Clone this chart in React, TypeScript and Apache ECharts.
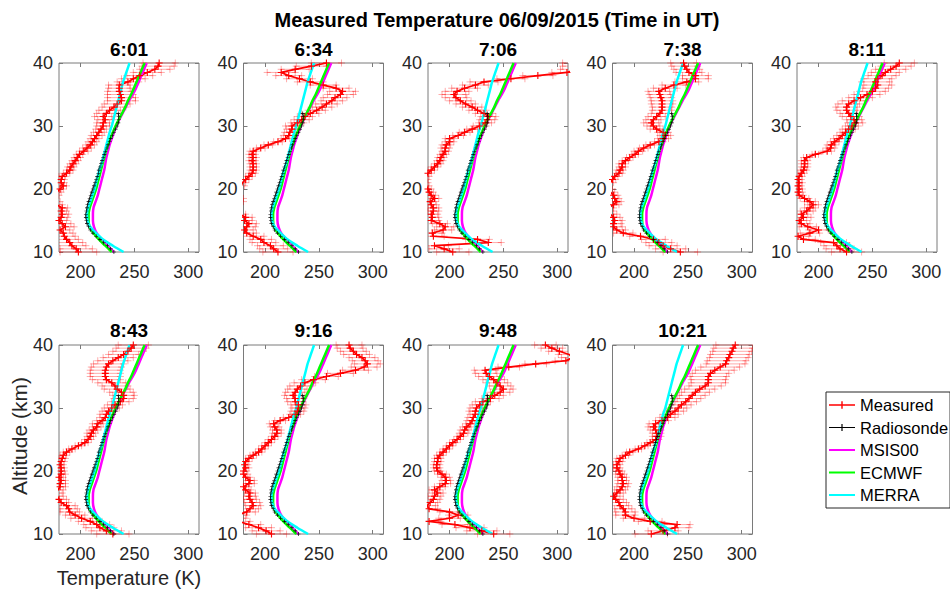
import React, { useEffect, useRef } from "react";
import * as echarts from "echarts";

const TITLES = ["6:01", "6:34", "7:06", "7:38", "8:11", "8:43", "9:16", "9:48", "10:21"];
const LEGEND_NAMES = ["Measured", "Radiosonde", "MSIS00", "ECMWF", "MERRA"];
const X_TICKS = [200, 250, 300];

// measured altitude levels (km)
const ALT = [10, 10.5, 11, 11.5, 12, 12.5, 13, 13.5, 14, 14.5, 15, 15.5, 16, 16.5, 17, 17.5, 18, 18.5, 19, 19.5,
  20, 20.5, 21, 21.5, 22, 22.5, 23, 23.5, 24, 24.5, 25, 25.5, 26, 26.5, 27, 27.5, 28, 28.5, 29, 29.5,
  30, 30.5, 31, 31.5, 32, 32.5, 33, 33.5, 34, 34.5, 35, 35.5, 36, 36.5, 37, 37.5, 38, 38.5, 39, 39.5, 40];

// measured temperatures (K)
const M_0601 = [198, 196, 192, 190, 187, 185, 184, 181, 186, 183, 180, 182, 183, 182, 183, 178, 176, 175, 176, 178,
  181, 184, 182, 182, 183, 187, 190, 191, 193, 195, 197, 199, 203, 206, 209, 211, 213, 215, 217, 219,
  221, 221, 223, 221, 224, 227, 231, 234, 238, 238, 237, 236, 236, 236, 244, 249, 255, 262, 269, 272, 273];
const M_0634 = [212, 208, 205, 199, 196, 189, 183, 181, 183, 185, 181, 182, 176, 174, 173, 174, 175, 176, 175, 174,
  176, 178, 179, 182, 185, 188, 189, 189, 189, 188, 189, 188, 189, 196, 203, 212, 219, 222, 223, 225,
  225, 230, 234, 237, 242, 248, 253, 257, 262, 265, 270, 272, 266, 254, 242, 232, 222, 215, 228, 243, 257];
const M_0706 = [203, 195, 186, 236, 226, 185, 184, 194, 196, 191, 183, 184, 183, 185, 185, 183, 182, 186, 183, 181,
  180, 178, 177, 177, 178, 180, 183, 186, 189, 191, 192, 194, 196, 196, 197, 200, 200, 208, 214, 221,
  228, 233, 235, 236, 232, 226, 221, 215, 210, 206, 204, 207, 214, 224, 232, 257, 282, 309, 318, 320, 320];
const M_0738 = [243, 234, 227, 223, 218, 206, 190, 184, 181, 181, 182, 181, 178, 176, 176, 181, 184, 182, 181, 178,
  177, 176, 178, 180, 182, 186, 187, 189, 189, 192, 196, 201, 204, 209, 215, 223, 227, 229, 227, 221,
  218, 216, 218, 221, 224, 226, 226, 226, 226, 225, 224, 223, 229, 237, 249, 257, 257, 251, 249, 247, 246];
const M_0811 = [226, 220, 217, 214, 186, 181, 192, 200, 190, 184, 182, 186, 184, 189, 192, 195, 192, 187, 182, 181,
  182, 181, 182, 181, 182, 184, 186, 187, 187, 187, 189, 197, 208, 211, 212, 215, 219, 222, 225, 228,
  231, 234, 233, 230, 228, 226, 226, 228, 233, 239, 245, 250, 253, 255, 253, 255, 259, 262, 267, 272, 275];
const M_0843 = [230, 224, 218, 215, 209, 201, 195, 190, 189, 187, 182, 180, 178, 177, 179, 181, 181, 182, 180, 182,
  182, 182, 181, 182, 183, 184, 187, 192, 198, 204, 207, 209, 210, 212, 215, 216, 220, 223, 224, 226,
  229, 232, 237, 240, 240, 238, 234, 232, 229, 224, 223, 223, 223, 224, 226, 230, 235, 240, 244, 247, 249];
const M_0916 = [206, 201, 194, 185, 176, 172, 174, 183, 186, 189, 188, 186, 185, 186, 182, 180, 185, 186, 182, 180,
  180, 182, 181, 182, 185, 189, 194, 197, 200, 203, 206, 209, 211, 211, 209, 208, 214, 222, 228, 230,
  231, 231, 228, 228, 226, 228, 230, 233, 237, 245, 257, 270, 284, 292, 295, 293, 290, 285, 282, 279, 278];
const M_0948 = [241, 230, 219, 205, 181, 200, 208, 200, 181, 179, 182, 185, 186, 189, 186, 191, 196, 197, 196, 193,
  189, 188, 188, 189, 189, 191, 194, 197, 200, 203, 207, 210, 213, 214, 216, 219, 221, 222, 224, 224,
  225, 228, 231, 238, 242, 247, 250, 247, 244, 241, 237, 234, 233, 255, 280, 308, 314, 311, 302, 295, 289];
const M_1021 = [216, 227, 238, 240, 215, 200, 192, 192, 190, 187, 186, 183, 181, 184, 187, 189, 190, 189, 189, 187,
  186, 184, 184, 186, 187, 192, 196, 204, 210, 215, 220, 221, 221, 220, 218, 220, 226, 231, 234, 238,
  241, 244, 248, 251, 254, 257, 261, 266, 269, 269, 269, 271, 275, 280, 285, 286, 288, 289, 291, 292, 294];

// measured uncertainty (K, +/-)
const E_0601 = [17, 15, 13, 12, 11, 10, 9, 9, 8, 8, 7, 6, 6, 5, 5, 5, 5, 4, 4, 4, 3, 3, 3, 3, 3, 3, 3, 3, 3, 3,
  3, 3, 4, 4, 4, 4, 4, 5, 5, 5, 6, 6, 7, 8, 9, 10, 11, 12, 13, 13, 12, 11, 10, 10, 10, 11, 12, 13, 14, 15, 15];
const E_0634 = [14, 13, 12, 11, 10, 10, 9, 8, 8, 7, 7, 6, 6, 5, 5, 5, 5, 4, 4, 4, 3, 3, 3, 3, 3, 3, 3, 3, 3, 3,
  3, 3, 3, 4, 4, 4, 4, 5, 5, 5, 6, 6, 7, 7, 8, 8, 9, 10, 10, 11, 12, 12, 12, 12, 12, 12, 12, 13, 13, 14, 14];
const E_0706 = [15, 14, 13, 12, 11, 10, 9, 8, 8, 7, 7, 6, 6, 5, 5, 5, 5, 4, 4, 4, 3, 3, 3, 3, 3, 3, 3, 3, 3, 3,
  3, 3, 3, 4, 4, 4, 4, 5, 5, 5, 6, 6, 7, 7, 8, 8, 9, 9, 10, 10, 11, 11, 12, 12, 13, 13, 14, 14, 15, 15, 15];
const E_0738 = [16, 14, 13, 12, 11, 10, 9, 8, 8, 7, 7, 6, 6, 5, 5, 5, 4, 4, 4, 4, 3, 3, 3, 3, 3, 3, 3, 3, 3, 3,
  3, 3, 4, 4, 4, 4, 5, 5, 5, 6, 6, 7, 7, 8, 8, 9, 9, 10, 10, 10, 10, 10, 11, 11, 11, 12, 12, 12, 12, 12, 12];
const E_0811 = [14, 13, 12, 12, 11, 10, 9, 9, 8, 8, 7, 7, 6, 6, 5, 5, 5, 4, 4, 4, 3, 3, 3, 3, 3, 3, 3, 3, 3, 3,
  3, 3, 4, 4, 4, 4, 5, 5, 5, 6, 6, 7, 7, 8, 8, 9, 10, 10, 11, 11, 12, 12, 12, 13, 13, 13, 13, 13, 14, 14, 14];
const E_0843 = [15, 14, 13, 12, 11, 10, 9, 9, 8, 8, 7, 7, 6, 6, 5, 5, 5, 4, 4, 4, 3, 3, 3, 3, 3, 3, 3, 3, 3, 3,
  3, 3, 4, 4, 4, 5, 5, 5, 6, 6, 7, 7, 8, 9, 10, 11, 12, 12, 13, 13, 14, 14, 14, 14, 14, 14, 14, 14, 14, 14, 14];
const E_0916 = [14, 13, 12, 11, 10, 10, 9, 8, 8, 7, 7, 6, 6, 5, 5, 5, 5, 4, 4, 4, 3, 3, 3, 3, 3, 3, 3, 3, 3, 3,
  3, 3, 4, 4, 4, 4, 5, 5, 5, 6, 6, 7, 7, 8, 8, 9, 9, 10, 10, 11, 11, 12, 12, 12, 12, 12, 12, 12, 12, 12, 12];
const E_0948 = [15, 14, 13, 12, 11, 10, 9, 9, 8, 8, 7, 6, 6, 5, 5, 5, 5, 4, 4, 4, 3, 3, 3, 3, 3, 3, 3, 3, 3, 3,
  3, 3, 4, 4, 4, 4, 5, 5, 5, 6, 6, 7, 7, 8, 8, 9, 9, 10, 10, 10, 10, 10, 10, 10, 10, 10, 10, 10, 10, 10, 10];
const E_1021 = [15, 14, 13, 12, 11, 10, 9, 9, 8, 8, 7, 7, 6, 6, 5, 5, 5, 4, 4, 4, 3, 3, 3, 3, 3, 3, 3, 3, 3, 3,
  3, 4, 4, 5, 5, 6, 6, 7, 7, 8, 8, 9, 10, 11, 12, 13, 14, 15, 16, 16, 17, 17, 18, 18, 18, 18, 18, 18, 18, 18, 18];

// model profiles (1 km levels)
const MODEL_ALT = [10, 11, 12, 13, 14, 15, 16, 17, 18, 19, 20, 21, 22, 23, 24, 25, 26, 27, 28, 29, 30,
  31, 32, 33, 34, 35, 36, 37, 38, 39, 40];
const MSIS00 = [231, 225, 219.5, 215, 212.5, 211.5, 211.5, 212, 214, 216, 217.5, 219, 220.5, 222, 223, 224,
  225.5, 227, 229, 231, 233, 236, 239, 242, 245, 248.5, 251.5, 254, 256.5, 259, 261.5];
const ECMWF = [229, 223, 217, 212, 208.5, 207.5, 207.5, 208.5, 210.5, 212.5, 214.5, 216, 217.5, 219, 220.5, 222,
  223.5, 225.5, 227.5, 230, 232.5, 235.5, 238.5, 241.5, 244, 247, 249.5, 252, 254.5, 257, 259.5];
const MERRA = [240, 230, 221, 214.5, 209, 206.5, 206, 207, 209, 211, 213, 214.5, 216, 217.5, 219.5, 221,
  222.5, 224, 225.5, 227, 229, 230.5, 232, 233.5, 235, 236.5, 238, 239.5, 241.5, 243.5, 245.5];

// radiosonde profile
const SONDE_ALT = [10, 10.5, 11, 11.5, 12, 12.5, 13, 13.5, 14, 14.5, 15, 15.5, 16, 16.5, 17, 17.5, 18, 18.5, 19, 19.5,
  20, 20.5, 21, 21.5, 22, 22.5, 23, 23.5, 24, 24.5, 25, 25.5, 26, 26.5, 27, 27.5, 28, 28.5, 29, 29.5,
  30, 30.5, 31, 31.5, 32];
const SONDE = [231, 228, 225, 221.5, 218, 214.5, 211.5, 209, 207.5, 206, 205.5, 205, 205, 205.5, 206, 206.5, 207.5, 208.5, 209.5, 210.5,
  211.5, 212.5, 213.5, 214.5, 215.5, 216.5, 217, 218, 219, 220, 221, 222, 223, 224.5, 225.5, 227, 228, 229.5, 231, 232.5,
  234, 235, 235.5, 235.5, 235];

const MEASURED = [M_0601, M_0634, M_0706, M_0738, M_0811, M_0843, M_0916, M_0948, M_1021];
const ERRORS = [E_0601, E_0634, E_0706, E_0738, E_0811, E_0843, E_0916, E_0948, E_1021];

const COL_LEFT = [59, 243.5, 428, 612.5, 797];
const ROW_TOP = [63, 345];
const PW = 140;
const PH = 189;
const FONT = "'Liberation Sans', Arial, Helvetica, sans-serif";
const AX = "#7a7a7a";
const TXT = "#262626";
const PLUS = "path://M0,4.2H10V5.8H0Z M4.2,0H5.8V10H4.2Z";
const ERR_COLOR = "rgba(255,0,0,0.33)";

// legend icons (26 x 14 box; tiny corner bits fix the bounding box)
const BOX = "M0,0H0.01V0.01H0Z M25.99,13.99H26V14H25.99Z ";
const ICON_LINE = "path://" + BOX + "M0,5.9H26V8.1H0Z";
const ICON_PLUS_RED = "path://" + BOX + "M0,6.3H26V7.7H0Z M12.3,3.3H13.7V10.7H12.3Z";
const ICON_PLUS_BLACK = "path://" + BOX + "M0,6.4H26V7.6H0Z M12.4,3.4H13.6V10.6H12.4Z";
const LEGEND_ICONS = [ICON_PLUS_RED, ICON_PLUS_BLACK, ICON_LINE, ICON_LINE, ICON_LINE];

function buildOption() {
  const grid: any[] = [];
  const xAxis: any[] = [];
  const yAxis: any[] = [];
  const series: any[] = [];
  const graphic: any[] = [];

  TITLES.forEach((title, i) => {
    const r = Math.floor(i / 5);
    const c = i % 5;
    const left = COL_LEFT[c];
    const top = ROW_TOP[r];
    grid.push({ left, top, width: PW, height: PH, show: true, borderColor: AX, borderWidth: 1, backgroundColor: "#fff" });
    const tick = { show: true, inside: true, length: 4, lineStyle: { color: AX, width: 1 } };
    xAxis.push({
      type: "value", gridIndex: i, min: 180, max: 310, position: "bottom",
      axisLine: { show: false }, splitLine: { show: false },
      axisTick: { ...tick, customValues: X_TICKS },
      axisLabel: { customValues: X_TICKS, fontSize: 18, color: TXT, fontFamily: FONT, margin: 11 },
    });
    xAxis.push({
      type: "value", gridIndex: i, min: 180, max: 310, position: "top",
      axisLine: { show: false }, splitLine: { show: false },
      axisTick: { ...tick, customValues: X_TICKS }, axisLabel: { show: false },
    });
    yAxis.push({
      type: "value", gridIndex: i, min: 10, max: 40, interval: 10, position: "left",
      axisLine: { show: false }, splitLine: { show: false }, axisTick: tick,
      axisLabel: { fontSize: 18, color: TXT, fontFamily: FONT, margin: 6 },
    });
    yAxis.push({
      type: "value", gridIndex: i, min: 10, max: 40, interval: 10, position: "right",
      axisLine: { show: false }, splitLine: { show: false }, axisTick: tick, axisLabel: { show: false },
    });
    const xi = 2 * i;
    const yi = 2 * i;
    const meas = MEASURED[i];
    const err = ERRORS[i];
    series.push({
      type: "custom", name: "err" + i, xAxisIndex: xi, yAxisIndex: yi, silent: true,
      encode: { x: 0, y: 1 },
      data: ALT.map((a, k) => [meas[k], a, err[k]]),
      renderItem: (params: any, api: any) => {
        const t = api.value(0);
        const a = api.value(1);
        const e = api.value(2);
        const cs = params.coordSys;
        const x0 = cs.x;
        const x1 = cs.x + cs.width;
        const pL = api.coord([t - e, a]);
        const pR = api.coord([t + e, a]);
        const y = pL[1];
        const children: any[] = [];
        const l = Math.max(pL[0], x0);
        const rr = Math.min(pR[0], x1);
        if (rr > l) children.push({ type: "line", shape: { x1: l, y1: y, x2: rr, y2: y }, style: { stroke: ERR_COLOR, lineWidth: 1 } });
        [pL[0], pR[0]].forEach((px) => {
          if (px >= x0 && px <= x1) {
            children.push({ type: "line", shape: { x1: Math.max(px - 3.5, x0), y1: y, x2: Math.min(px + 3.5, x1), y2: y }, style: { stroke: ERR_COLOR, lineWidth: 1 } });
            children.push({ type: "line", shape: { x1: px, y1: y - 3.5, x2: px, y2: y + 3.5 }, style: { stroke: ERR_COLOR, lineWidth: 1 } });
          }
        });
        return { type: "group", children };
      },
    });
    series.push({
      type: "line", name: "Measured", xAxisIndex: xi, yAxisIndex: yi, clip: true,
      data: ALT.map((a, k) => [meas[k], a]),
      symbol: PLUS, symbolSize: 7, showSymbol: true,
      lineStyle: { color: "#ff0000", width: 1.7 }, itemStyle: { color: "#ff0000" },
    });
    series.push({
      type: "line", name: "Radiosonde", xAxisIndex: xi, yAxisIndex: yi, clip: true,
      data: SONDE_ALT.map((a, k) => [SONDE[k], a]),
      symbol: PLUS, symbolSize: 4, showSymbol: true,
      lineStyle: { color: "#000", width: 0.8 }, itemStyle: { color: "#000" },
    });
    series.push({
      type: "line", name: "MSIS00", xAxisIndex: xi, yAxisIndex: yi, clip: true, smooth: 0.3,
      data: MODEL_ALT.map((a, k) => [MSIS00[k], a]), symbol: "none",
      lineStyle: { color: "#ff00ff", width: 2.5 }, itemStyle: { color: "#ff00ff" },
    });
    series.push({
      type: "line", name: "ECMWF", xAxisIndex: xi, yAxisIndex: yi, clip: true, smooth: 0.3,
      data: MODEL_ALT.map((a, k) => [ECMWF[k], a]), symbol: "none",
      lineStyle: { color: "#00ff00", width: 2.5 }, itemStyle: { color: "#00ff00" },
    });
    series.push({
      type: "line", name: "MERRA", xAxisIndex: xi, yAxisIndex: yi, clip: true, smooth: 0.3,
      data: MODEL_ALT.map((a, k) => [MERRA[k], a]), symbol: "none",
      lineStyle: { color: "#00ffff", width: 2.5 }, itemStyle: { color: "#00ffff" },
    });
    graphic.push({
      type: "text", x: left + PW / 2, y: r === 0 ? 49 : 330,
      style: { text: title, fontSize: 19, fontWeight: "bold", fill: "#000", fontFamily: FONT, textAlign: "center", textVerticalAlign: "middle" },
    });
  });

  graphic.push({
    type: "text", x: 497, y: 20,
    style: { text: "Measured Temperature 06/09/2015 (Time in UT)", fontSize: 20, fontWeight: "bold", fill: "#000", fontFamily: FONT, textAlign: "center", textVerticalAlign: "middle" },
  });
  graphic.push({
    type: "text", x: 129, y: 578,
    style: { text: "Temperature (K)", fontSize: 20, fill: TXT, fontFamily: FONT, textAlign: "center", textVerticalAlign: "middle" },
  });
  graphic.push({
    type: "text", x: 19, y: 436, rotation: Math.PI / 2,
    style: { text: "Altitude (km)", fontSize: 21, fill: TXT, fontFamily: FONT, textAlign: "center", textVerticalAlign: "middle" },
  });

  return {
    animation: false,
    backgroundColor: "#fff",
    grid, xAxis, yAxis, series, graphic,
    legend: {
      data: LEGEND_NAMES.map((name, k) => ({ name, icon: LEGEND_ICONS[k] })),
      orient: "vertical", left: 826, top: 392, selectedMode: false,
      padding: [4, 2, 4, 3], itemGap: 4.5, itemWidth: 26, itemHeight: 14,
      borderColor: TXT, borderWidth: 1, backgroundColor: "#fff",
      textStyle: { fontSize: 16.5, color: "#000", fontFamily: FONT, lineHeight: 18 },
    },
  };
}

export default function App() {
  const ref = useRef<HTMLDivElement>(null);
  useEffect(() => {
    if (!ref.current) return;
    const chart = echarts.init(ref.current, undefined, { renderer: "svg" });
    chart.setOption(buildOption() as any);
    return () => chart.dispose();
  }, []);
  return <div ref={ref} style={{ position: "fixed", left: 0, top: 0, width: 950, height: 590, background: "#fff" }} />;
}
